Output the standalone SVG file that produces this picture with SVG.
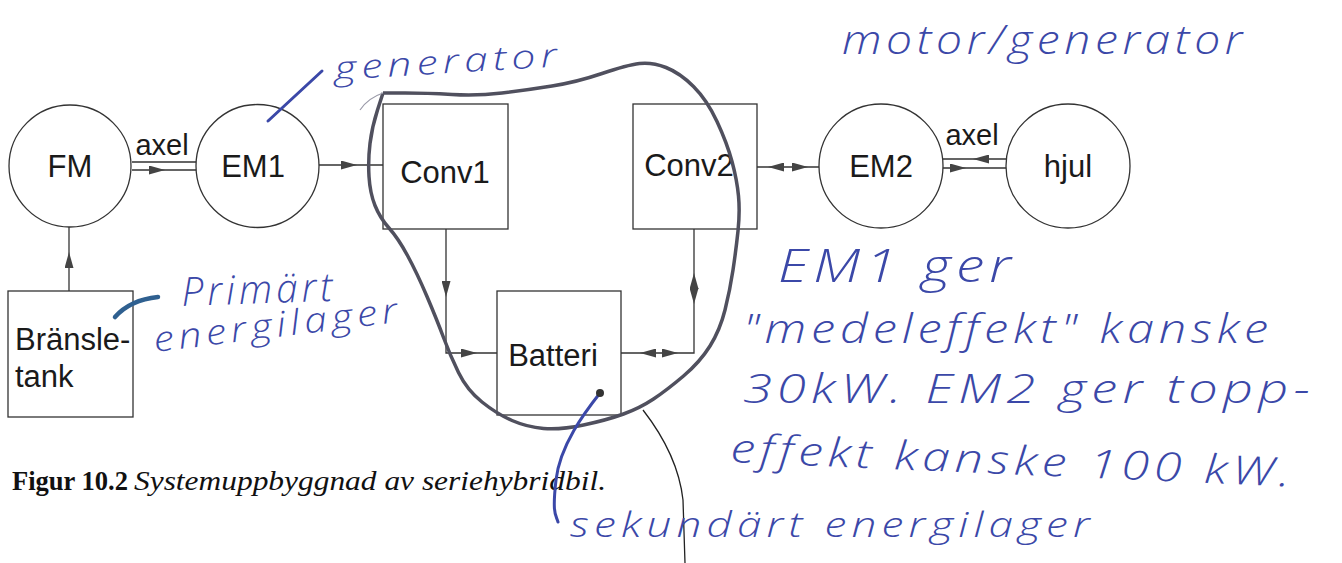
<svg xmlns="http://www.w3.org/2000/svg" width="1342" height="563" viewBox="0 0 1342 563">
<style>
.node{fill:#fff;stroke:#333;stroke-width:1.3}
.lbl{font-family:"Liberation Sans",Arial,sans-serif;font-size:31px;fill:#1a1a1a}
.ax{font-family:"Liberation Sans",Arial,sans-serif;font-size:29px;fill:#1a1a1a;text-anchor:middle}
.ln{fill:none;stroke:#333;stroke-width:1.3}
.tip{fill:none;stroke:none;marker-end:url(#ah)}
.hw{font-family:"Open Sans","DejaVu Sans",sans-serif;font-style:italic;font-weight:300;fill:#3b48a8;letter-spacing:4px}
.ink{fill:none;stroke:#3b48a8;stroke-width:3;stroke-linecap:round}
.cap{font-family:"Liberation Serif","Times New Roman",serif;font-size:27px;fill:#111}
</style>
<defs>
<marker id="ah" viewBox="0 0 10 10" refX="10" refY="5" markerWidth="16" markerHeight="9" markerUnits="userSpaceOnUse" orient="auto" preserveAspectRatio="none"><path d="M0,0 L10,5 L0,10 z" fill="#444"/></marker>
</defs>
<rect width="1342" height="563" fill="#fff"/>

<g id="connectors">
<path class="ln" d="M132,162 H196 M132,170 H196"/>
<path class="ln" d="M319,165 H383"/>
<path class="ln" d="M757,167 H819"/>
<path class="ln" d="M943,159 H1006 M943,168 H1006"/>
<path class="ln" d="M69,291 V227"/>
<path class="ln" d="M446,229 V353 H497"/>
<path class="ln" d="M621,353 H694 V229"/>
<path class="tip" d="M150,170 L165,170"/>
<path class="tip" d="M342,165 L357,165"/>
<path class="tip" d="M783,167 L768,167"/>
<path class="tip" d="M793,167 L808,167"/>
<path class="tip" d="M988,159 L973,159"/>
<path class="tip" d="M950,168 L966,168"/>
<path class="tip" d="M69,268 L69,252"/>
<path class="tip" d="M446,281 L446,297"/>
<path class="tip" d="M462,353 L477,353"/>
<path class="tip" d="M656,353 L640,353"/>
<path class="tip" d="M662,353 L678,353"/>
<path class="tip" d="M694,289 L694,273"/>
<path class="tip" d="M694,288 L694,304"/>
<text class="ax" x="162" y="155">axel</text>
<text class="ax" x="972" y="145">axel</text>
</g>

<g id="FM"><circle class="node" cx="70" cy="166" r="61"/><text class="lbl" x="70" y="177" text-anchor="middle">FM</text></g>
<g id="EM1"><circle class="node" cx="257.5" cy="166" r="61.5"/><text class="lbl" x="253" y="177" text-anchor="middle">EM1</text></g>
<g id="Conv1"><rect class="node" x="383" y="104" width="125" height="125"/><text class="lbl" x="445" y="183" text-anchor="middle">Conv1</text></g>
<g id="Conv2"><rect class="node" x="633" y="104" width="124" height="125"/><text class="lbl" x="689" y="176" text-anchor="middle">Conv2</text></g>
<g id="EM2"><circle class="node" cx="881" cy="166" r="62"/><text class="lbl" x="881" y="177" text-anchor="middle">EM2</text></g>
<g id="hjul"><circle class="node" cx="1068" cy="166" r="62"/><text class="lbl" x="1068" y="177" text-anchor="middle">hjul</text></g>
<g id="Batteri"><rect class="node" x="497" y="291" width="124" height="124"/><text class="lbl" x="553" y="366" text-anchor="middle">Batteri</text></g>
<g id="Bransletank"><rect class="node" x="8" y="291" width="125" height="126"/><text class="lbl" x="15" y="350">Bränsle-</text><text class="lbl" x="15" y="387">tank</text></g>

<g id="caption">
<text class="cap" x="12" y="490" font-weight="bold" textLength="116" lengthAdjust="spacingAndGlyphs">Figur 10.2</text>
<text class="cap" x="134" y="490" font-style="italic" textLength="472" lengthAdjust="spacingAndGlyphs">Systemuppbyggnad av seriehybridbil.</text>
</g>

<g id="annotations">
<path d="M383,93 L377.5,110 Q372,127 370,143.5 Q368,160 369,176.5 Q370,193 375,205.5 Q380,218 389,228 Q398,238 407.5,255.5 Q417,273 427,296.5 Q437,320 443.5,337.5 Q450,355 458.5,372.5 Q467,390 482,402 Q497,414 512,420.5 Q527,427 543.5,428.5 Q560,430 583.5,425 Q607,420 623.5,414 Q640,408 653.5,399 Q667,390 683.5,376 Q700,362 710,346 Q720,330 725,310 Q730,290 733,270 Q736,250 738,231 Q740,212 738.5,196 Q737,180 732,161.5 Q727,143 717,121.5 Q707,100 693.5,86.5 Q680,73 666,67.5 Q652,62 639.5,63.5 Q627,65 602,73.5 Q577,82 552,86 Q527,90 502,93 Q477,96 452,94.5 Q427,93 405,93 L383,93" fill="none" stroke="#50505e" stroke-width="3.5" stroke-linejoin="round"/>
<path d="M383,93 Q368,98 360,110" fill="none" stroke="#9a9aa8" stroke-width="1.2"/>
<path d="M643,410 Q678,455 683,500 L685,563" fill="none" stroke="#222" stroke-width="1.3"/>
<path class="ink" d="M268,121 Q293,98 322,71"/>
<path d="M115,317 Q130,300 158,297" fill="none" stroke="#2f6090" stroke-width="4.5" stroke-linecap="round"/>
<path class="ink" d="M600,393 C585,412 560,445 556,480 S556,515 558,522" stroke-width="2.5"/>
<circle cx="600" cy="393" r="4" fill="#333"/>
<text class="hw" x="335" y="80" font-size="33" textLength="228" lengthAdjust="spacingAndGlyphs" transform="rotate(-3.5 335 80)">generator</text>
<text class="hw" x="842" y="54" font-size="40" textLength="405" lengthAdjust="spacingAndGlyphs">motor/generator</text>
<text class="hw" x="182" y="306" font-size="40" textLength="155" lengthAdjust="spacingAndGlyphs" transform="rotate(-2 182 306)">Primärt</text>
<text class="hw" x="155" y="352" font-size="35" textLength="250" lengthAdjust="spacingAndGlyphs" transform="rotate(-7 155 352)">energilager</text>
<text class="hw" x="778" y="282" font-size="46" textLength="238" lengthAdjust="spacingAndGlyphs">EM1 ger</text>
<text class="hw" x="743" y="343" font-size="40" textLength="530" lengthAdjust="spacingAndGlyphs">"medeleffekt" kanske</text>
<text class="hw" x="743" y="403" font-size="40" textLength="572" lengthAdjust="spacingAndGlyphs">30kW. EM2 ger topp-</text>
<text class="hw" x="730" y="462" font-size="40" textLength="565" lengthAdjust="spacingAndGlyphs" transform="rotate(2.5 730 462)">effekt kanske 100 kW.</text>
<text class="hw" x="570" y="537" font-size="34" textLength="525" lengthAdjust="spacingAndGlyphs">sekundärt energilager</text>
</g>
</svg>
